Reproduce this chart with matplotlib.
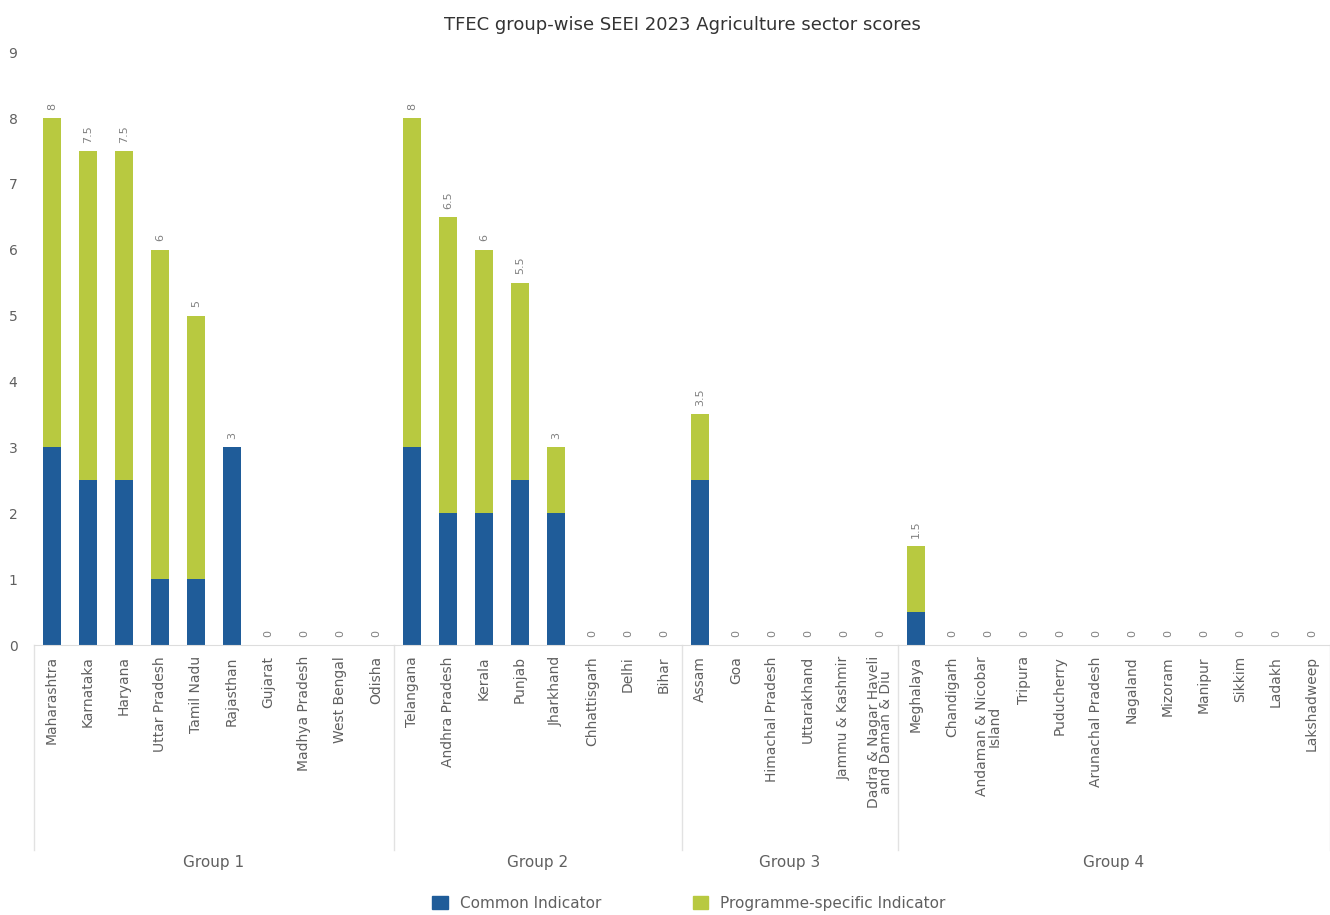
import matplotlib.pyplot as plt
import matplotlib.transforms as mtransforms
from matplotlib.patches import Patch

# states, in group order
states = ['Maharashtra', 'Karnataka', 'Haryana', 'Uttar Pradesh', 'Tamil Nadu',
          'Rajasthan', 'Gujarat', 'Madhya Pradesh', 'West Bengal', 'Odisha',
          'Telangana', 'Andhra Pradesh', 'Kerala', 'Punjab', 'Jharkhand',
          'Chhattisgarh', 'Delhi', 'Bihar',
          'Assam', 'Goa', 'Himachal Pradesh', 'Uttarakhand', 'Jammu & Kashmir',
          'Dadra & Nagar Haveli\nand Daman & Diu',
          'Meghalaya', 'Chandigarh', 'Andaman & Nicobar\nIsland', 'Tripura',
          'Puducherry', 'Arunachal Pradesh', 'Nagaland', 'Mizoram', 'Manipur',
          'Sikkim', 'Ladakh', 'Lakshadweep']
groups = ['Group 1', 'Group 2', 'Group 3', 'Group 4']
group_sizes = [10, 8, 6, 12]

common = [3, 2.5, 2.5, 1, 1, 3, 0, 0, 0, 0,
          3, 2, 2, 2.5, 2, 0, 0, 0,
          2.5, 0, 0, 0, 0, 0,
          0.5, 0, 0, 0, 0, 0, 0, 0, 0, 0, 0, 0]
programme = [5, 5, 5, 5, 4, 0, 0, 0, 0, 0,
             5, 4.5, 4, 3, 1, 0, 0, 0,
             1, 0, 0, 0, 0, 0,
             1, 0, 0, 0, 0, 0, 0, 0, 0, 0, 0, 0]

BLUE = '#1f5c99'
GREEN = '#b8c940'
TXT = '#606060'

fig = plt.figure(figsize=(13.3, 9.15), dpi=100)
ax = fig.add_axes([0.0256, 0.295, 0.9744, 0.648])

x = list(range(len(states)))
ax.bar(x, common, width=0.5, color=BLUE, label='Common Indicator')
ax.bar(x, programme, width=0.5, bottom=common, color=GREEN,
       label='Programme-specific Indicator')

# total labels above bars
for i in x:
    tot = common[i] + programme[i]
    lab = ('%g' % tot)
    ax.annotate(lab, (i, tot), xytext=(0, 6), textcoords='offset points',
                rotation=90, ha='center', va='bottom', fontsize=8, color='#808080')

ax.set_xlim(-0.5, len(states) - 0.5)
ax.set_ylim(0, 9)
ax.set_yticks(range(10))
ax.set_xticks(x)
ax.set_xticklabels(states, rotation=90, fontsize=10, color=TXT,
                   linespacing=0.9)
ax.tick_params(axis='x', length=0, pad=8)
ax.tick_params(axis='y', length=0, pad=12, labelsize=10, labelcolor=TXT)
for s in ['top', 'right', 'left']:
    ax.spines[s].set_visible(False)
ax.spines['bottom'].set_color('#dddddd')

# group separators and labels
trans = mtransforms.blended_transform_factory(ax.transData, ax.transAxes)
start = 0
bounds = [-0.5]
for g, n in zip(groups, group_sizes):
    end = start + n
    bounds.append(end - 0.5)
    ax.text((start + end - 1) / 2, -0.366, g, transform=trans, ha='center',
            va='center', fontsize=11, color=TXT)
    start = end
for b in bounds:
    ax.plot([b, b], [0, -0.346], transform=trans, color='#e2e2e2', lw=1,
            clip_on=False)

ax.set_title('TFEC group-wise SEEI 2023 Agriculture sector scores',
             fontsize=13, color='#333333', pad=16)

handles = [Patch(color=BLUE, label='Common Indicator'),
           Patch(color=GREEN, label='Programme-specific Indicator')]
fig.legend(handles=handles, loc='center', bbox_to_anchor=(0.518, 0.013),
           ncol=2, frameon=False, fontsize=11, handlelength=1, handleheight=1,
           columnspacing=6, labelcolor=TXT)

fig.savefig('out.png', dpi=100, facecolor='white')
